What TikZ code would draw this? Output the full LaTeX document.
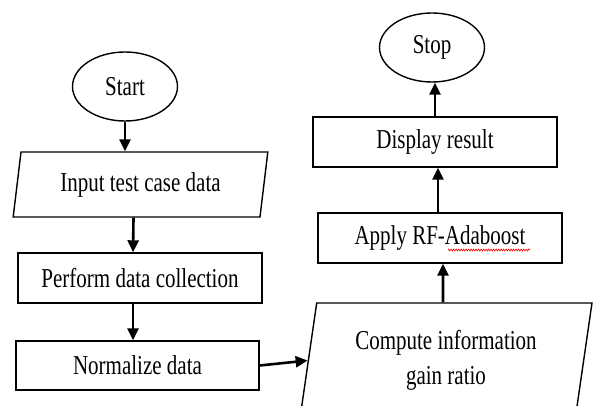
\documentclass[tikz,border=0pt]{standalone}
\usepackage{graphicx}
\usepackage{fontspec}
\setmainfont{Liberation Serif}
\usetikzlibrary{shapes.geometric,arrows.meta,decorations.pathmorphing}
% the lettering of the scan is drawn a little taller than wide
\newcommand{\stretchtxt}[1]{\scalebox{1}[1.3]{#1}}

\begin{document}
\begin{tikzpicture}[x=1pt,y=-1pt,
  box/.style={draw,line width=1.4pt,minimum width=244pt,minimum height=50pt,
    inner sep=0pt,font=\fontsize{21}{35}\selectfont},
  term/.style={draw,ellipse,line width=1.4pt,minimum width=105pt,minimum height=69pt,
    inner sep=0pt,font=\fontsize{21}{25}\selectfont},
  io/.style={draw,trapezium,trapezium left angle=78,trapezium right angle=102,
    trapezium stretches=true,line width=1.4pt,inner sep=0pt,align=center,
    font=\fontsize{21}{35}\selectfont},
  flow/.style={line width=2.6pt,-{Triangle[length=12pt,width=11pt]}}]
  % Page frame (pixel units, y grows downward); the last shape runs off the bottom
  \useasboundingbox (0,0) rectangle (593,406);
  \clip (0,0) rectangle (593,406);
  % Left column, top to bottom
  \node[term] (start) at (125,86.5) {\stretchtxt{Start}};
  \node[io,minimum width=255pt,minimum height=65pt] (input) at (140.5,184.5) {\stretchtxt{Input test case data}};
  \node[box] (perform) at (140,278) {\stretchtxt{Perform data collection}};
  \node[box,minimum width=243pt,minimum height=49pt] (norm) at (137.5,365.5) {\stretchtxt{Normalize data}};
  % Right column, bottom to top
  \node[io,minimum width=292pt,minimum height=115pt,
    trapezium left angle=79,trapezium right angle=101] (gain) at (446,360.5)
    {\stretchtxt{Compute information}\\\stretchtxt{gain ratio}};
  \node[box] (apply) at (440,238) {\stretchtxt{Apply RF-Adaboost}};
  \node[box] (display) at (435,142) {\stretchtxt{Display result}};
  \node[term] (stop) at (432,47.5) {\stretchtxt{Stop}};
  % Spell-check squiggle under Adaboost
  \draw[red,line width=0.6pt,decorate,decoration={zigzag,segment length=2.5pt,amplitude=1pt}]
    ([xshift=8pt,yshift=-12pt]apply.center) -- ([xshift=90pt,yshift=-12pt]apply.center);
  % Connectors
  \draw[flow] (start.south) -- (start.south |- input.north);
  \draw[flow] ([xshift=-7pt]input.south) -- ([xshift=-7pt]perform.north);
  \draw[flow] ([xshift=-7pt]perform.south) -- ([xshift=-4.5pt]norm.north);
  \draw[flow] (norm.east) -- (gain.west);
  \draw[flow] ([xshift=-3pt]gain.north) -- ([xshift=3pt]apply.south);
  \draw[flow] ([xshift=-2pt]apply.north) -- ([xshift=3pt]display.south);
  \draw[flow] (display.north) -- (display.north |- stop.south);
\end{tikzpicture}
\end{document}
